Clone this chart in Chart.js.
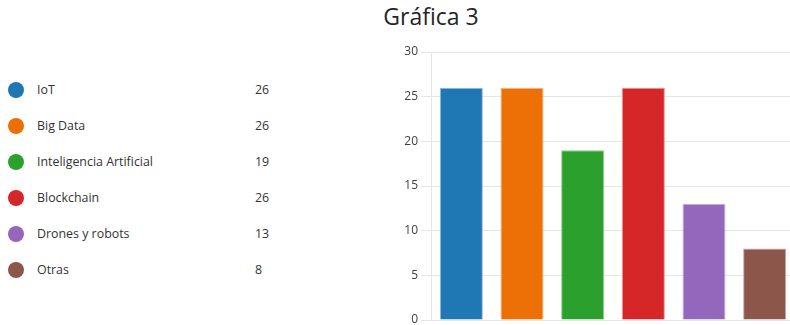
<!DOCTYPE html>
<html>
<head>
<meta charset="utf-8">
<script src="https://cdn.jsdelivr.net/npm/chart.js@4/dist/chart.umd.min.js"></script>
<style>
  html,body{margin:0;padding:0;background:#fff;overflow:hidden;width:790px;height:325px;}
  body{position:relative;font-family:'Open Sans','Noto Sans',sans-serif;color:#333;}
  #title{position:absolute;left:331px;width:200px;top:0;text-align:center;font-size:23px;line-height:32px;color:#252525;}
  #legend{position:absolute;left:0;top:72px;width:300px;}
  .row{position:absolute;left:0;height:36px;width:300px;font-size:12.4px;}
  .dot{position:absolute;left:8px;top:10px;width:16px;height:16px;border-radius:50%;}
  .lbl{position:absolute;left:37px;top:0;line-height:36px;}
  .val{position:absolute;left:255px;top:0;line-height:36px;}
  #wrap{position:absolute;left:380px;top:40px;width:415px;height:285px;}
</style>
</head>
<body>
<div id="title">Gráfica 3</div>
<div id="legend"></div>
<div id="wrap"><canvas id="chart"></canvas></div>
<script>
// ── Gráfica 3: barras por tecnología + leyenda con valores ──
const categorias = ['IoT','Big Data','Inteligencia Artificial','Blockchain','Drones y robots','Otras'];
const valores    = [26, 26, 19, 26, 13, 8];
const colores    = ['#1f77b4','#ec7006','#2ca02c','#d62728','#9467bd','#8c564b'];
const bordes     = ['#8ebbdc','#f5b27a','#92d092','#eb9394','#cab3de','#c5aaa5'];
const ticksY     = [0,5,10,15,20,25,30];

const leg = document.getElementById('legend');
categorias.forEach((c,i)=>{
  const r = document.createElement('div');
  r.className = 'row';
  r.style.top = (i*36)+'px';
  r.innerHTML = `<span class="dot" style="background:${colores[i]}"></span><span class="lbl">${c}</span><span class="val">${valores[i]}</span>`;
  leg.appendChild(r);
});

new Chart(document.getElementById('chart').getContext('2d'),{
  type:'bar',
  data:{labels:categorias,datasets:[{
    data:valores,backgroundColor:colores,borderColor:bordes,borderWidth:1,
    categoryPercentage:1,barPercentage:0.71
  }]},
  options:{
    responsive:true,maintainAspectRatio:false,animation:false,
    layout:{padding:{top:12,bottom:5,left:0,right:0}},
    plugins:{legend:{display:false},tooltip:{enabled:false}},
    scales:{
      x:{display:false},
      y:{
        min:0,max:30,
        afterFit(s){ s.width = 51; s.paddingBottom = 0; },
        afterBuildTicks(s){ s.ticks = ticksY.map(v=>({value:v})); },
        grid:{color:'#e6e6e6',tickLength:10,tickColor:'#e6e6e6'},
        border:{color:'#e6e6e6'},
        ticks:{font:{family:'Open Sans',size:12},color:'#404040',padding:3}
      }
    }
  }
});
</script>
</body>
</html>
